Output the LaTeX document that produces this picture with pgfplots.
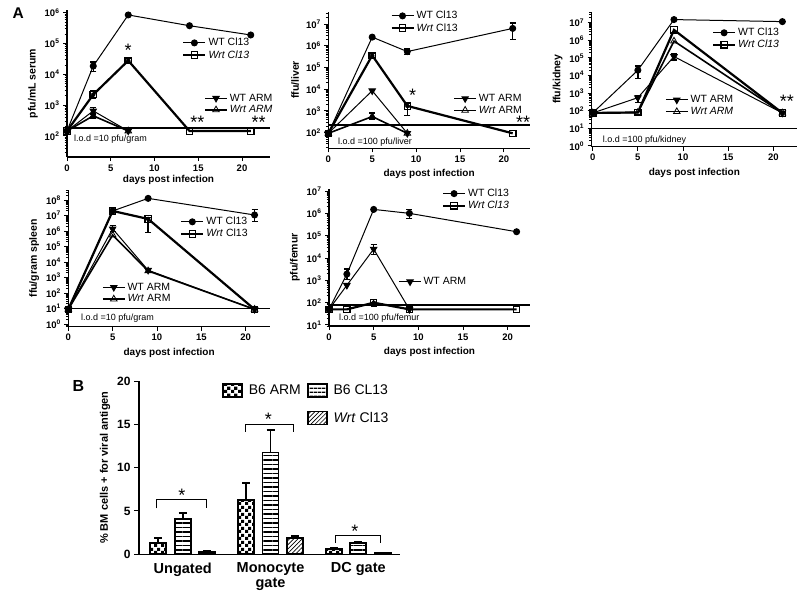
\documentclass[border=0pt]{standalone}
\usepackage{pgfplots}
\pgfplotsset{compat=1.18}
\usepackage{fontspec}
\setmainfont{Liberation Sans}
\usetikzlibrary{patterns,patterns.meta}

\pgfdeclarepatternformonly{bigcheck}{\pgfpointorigin}{\pgfqpoint{7pt}{7pt}}{\pgfqpoint{7pt}{7pt}}{%
  \pgfpathrectangle{\pgfpointorigin}{\pgfqpoint{3.5pt}{3.5pt}}%
  \pgfpathrectangle{\pgfqpoint{3.5pt}{3.5pt}}{\pgfqpoint{3.5pt}{3.5pt}}%
  \pgfusepath{fill}}

\newcommand{\E}[1]{\textbf{10}\textsuperscript{\textbf{#1}}}
\newcommand{\fs}[1]{\fontsize{#1}{#1}\selectfont}
\def\minorlist{0.2,0.3,0.4,0.5,0.6,0.7,0.8,0.9,2,3,4,5,6,7,8,9,20,30,40,50,60,70,80,90,200,300,400,500,600,700,800,900,2000,3000,4000,5000,6000,7000,8000,9000,2e4,3e4,4e4,5e4,6e4,7e4,8e4,9e4,2e5,3e5,4e5,5e5,6e5,7e5,8e5,9e5,2e6,3e6,4e6,5e6,6e6,7e6,8e6,9e6,2e7,3e7,4e7,5e7,6e7,7e7,8e7,9e7,2e8,3e8,4e8}

\tikzset{
  sigtxt/.style={font=\fs{18}, inner sep=0pt},
  lodtxt/.style={anchor=west, font=\fs{9}, inner sep=0pt},
  wtclstyle/.style={black, line width=1pt, mark=*, mark size=3pt, mark options={solid}},
  wrtclstyle/.style={black, line width=2.2pt, mark=square, mark size=3.2pt, mark options={solid, fill=white, line width=1.2pt}},
  wtarmstyle/.style={black, line width=1pt, mark=triangle*, mark size=3.6pt, mark options={solid, rotate=180}},
  wrtarmstyle/.style={black, line width=1.6pt, mark=triangle, mark size=3.8pt, mark options={solid, fill=white, line width=0.8pt}},
}

\pgfplotsset{
  legend image code/.code={\draw[mark repeat=2,mark phase=2,#1] plot coordinates {(0pt,0pt) (11pt,0pt) (22pt,0pt)};},
  every axis/.append style={
    scale only axis, anchor=south west,
    axis lines=left,
    axis line style={-, line width=1.3pt},
    tick style={black, line width=1pt},
    tick align=outside,
    major tick length=4pt,
    minor tick length=2.5pt,
    xticklabel style={font=\fs{9.5}\bfseries},
    yticklabel style={font=\fs{9.5}\bfseries},
    xlabel style={font=\fs{10}\bfseries},
    ylabel style={font=\fs{10.5}\bfseries},
    clip=false,
    legend style={draw=none, fill=none, font=\fs{10.5}, anchor=west, inner sep=0pt, row sep=-1pt},
    legend cell align=left,
    /pgf/number format/assume math mode=true,
  },
}

\begin{document}
\begin{tikzpicture}
\path[use as bounding box] (0pt,0pt) rectangle (800pt,-595pt);
\node[anchor=base, font=\fs{15.5}\bfseries] at (18.3pt,-18.3pt) {A};
\node[anchor=base, font=\fs{16}\bfseries] at (78.3pt,-391.7pt) {B};

% ---------------- serum ----------------
\begin{axis}[ymode=log, at={(67pt,-157pt)}, width=203pt, height=147pt, xmin=0, xmax=23.2, ymin=20.7, ymax=1.23e6,
    xtick={0,5,10,15,20}, xlabel={days post infection}, xlabel style={yshift=2.5pt},
    ytick={1e2,1e3,1e4,1e5,1e6}, yticklabels={\E{2},\E{3},\E{4},\E{5},\E{6}}, ylabel={pfu/mL serum},
    minor ytick/.expand once={\minorlist},
    legend style={at={(0.567,0.735)}}]
\addplot[forget plot, black, line width=1.6pt, mark=none] coordinates {(0,180) (23.2,180)};
\addplot[forget plot, only marks, mark=none, error bars/.cd, y dir=both, y explicit, error bar style={line width=1.3pt, black}, error mark options={rotate=90, mark size=3pt, line width=1.3pt, black}]
  coordinates {(3,18600) += (0,6400) -= (0,6000) (3,2200) += (0,700) -= (0,500) (7,28000) += (0,4000) -= (0,4000)};
\addplot[wtclstyle] coordinates {(0,145) (3,18600) (7,850000) (14,380000) (21,190000)};
\addlegendentry{WT Cl13}
\addplot[wrtclstyle] coordinates {(0,145) (3,2200) (7,28000) (14,145) (21,145)};
\addlegendentry{\textit{Wrt Cl13}}
\node[sigtxt] at (axis cs:7,6.2e4) {*};
\node[sigtxt] at (axis cs:14.9,280) {**};
\node[sigtxt] at (axis cs:21.9,280) {**};
\node[lodtxt] at (axis cs:0.8,78) {l.o.d =10 pfu/gram};
\end{axis}
\begin{axis}[ymode=log, hide axis, at={(67pt,-157pt)}, width=203pt, height=147pt, xmin=0, xmax=23.2, ymin=20.7, ymax=1.23e6,
    legend style={at={(0.675,0.36)}}]
\addplot[forget plot, only marks, mark=none, error bars/.cd, y dir=both, y explicit, error bar style={line width=1.3pt, black}, error mark options={rotate=90, mark size=3pt, line width=1.3pt, black}]
  coordinates {(3,650) += (0,200) -= (0,150) (3,450) += (0,70) -= (0,70)};
\addplot[wtarmstyle] coordinates {(0,145) (3,650) (7,145)};
\addlegendentry{WT ARM}
\addplot[wrtarmstyle] coordinates {(0,145) (3,450) (7,145)};
\addlegendentry{\textit{Wrt ARM}}
\end{axis}

% ---------------- liver ----------------
\begin{axis}[ymode=log, at={(328.3pt,-148.3pt)}, width=201.7pt, height=136.6pt, xmin=0, xmax=22.97, ymin=19, ymax=3.7e7,
    xtick={0,5,10,15,20}, xlabel={days post infection},
    ytick={1e2,1e3,1e4,1e5,1e6,1e7}, yticklabels={\E{2},\E{3},\E{4},\E{5},\E{6},\E{7}}, ylabel={ffu/liver},
    minor ytick/.expand once={\minorlist},
    legend style={at={(0.307,0.925)}}]
\addplot[forget plot, black, line width=1.6pt, mark=none] coordinates {(0,225) (22.97,225)};
\addplot[forget plot, only marks, mark=none, error bars/.cd, y dir=both, y explicit, error bar style={line width=1.3pt, black}, error mark options={rotate=90, mark size=3pt, line width=1.3pt, black}]
  coordinates {(9,5.4e5) += (0,1.6e5) -= (0,1.5e5) (21,6.3e6) += (0,4.7e6) -= (0,4.3e6) (5,3.6e5) += (0,1e5) -= (0,0.8e5) (9,1700) += (0,500) -= (0,1100)};
\addplot[wtclstyle] coordinates {(0,93) (5,2.5e6) (9,5.4e5) (21,6.3e6)};
\addlegendentry{WT Cl13}
\addplot[wrtclstyle] coordinates {(0,93) (5,3.6e5) (9,1700) (21,93)};
\addlegendentry{\textit{Wrt} Cl13}
\node[sigtxt] at (axis cs:9.6,5400) {*};
\node[sigtxt] at (axis cs:22.2,290) {**};
\node[lodtxt] at (axis cs:1.1,38) {l.o.d =100 pfu/liver};
\end{axis}
\begin{axis}[ymode=log, hide axis, at={(328.3pt,-148.3pt)}, width=201.7pt, height=136.6pt, xmin=0, xmax=22.97, ymin=19, ymax=3.7e7,
    legend style={at={(0.619,0.321)}}]
\addplot[forget plot, only marks, mark=none, error bars/.cd, y dir=both, y explicit, error bar style={line width=1.3pt, black}, error mark options={rotate=90, mark size=3pt, line width=1.3pt, black}]
  coordinates {(5,550) += (0,250) -= (0,150)};
\addplot[wtarmstyle] coordinates {(0,93) (5,8500) (9,93)};
\addlegendentry{WT ARM}
\addplot[wrtarmstyle] coordinates {(0,93) (5,550) (9,93)};
\addlegendentry{\textit{Wrt} ARM}
\end{axis}

% ---------------- kidney ----------------
\begin{axis}[ymode=log, at={(591.7pt,-146.7pt)}, width=205.3pt, height=135pt, xmin=-0.11, xmax=22.62, ymin=0.91, ymax=4.2e7,
    xtick={0,5,10,15,20}, xlabel={days post infection},
    ytick={1,1e1,1e2,1e3,1e4,1e5,1e6,1e7}, yticklabels={\E{0},\E{1},\E{2},\E{3},\E{4},\E{5},\E{6},\E{7}}, ylabel={ffu/kidney},
    minor ytick/.expand once={\minorlist},
    legend style={at={(0.585,0.799)}}]
\addplot[forget plot, black, line width=1.6pt, mark=none] coordinates {(-0.11,10) (22.62,10)};
\addplot[forget plot, only marks, mark=none, error bars/.cd, y dir=both, y explicit, error bar style={line width=1.3pt, black}, error mark options={rotate=90, mark size=3pt, line width=1.3pt, black}]
  coordinates {(5,2e4) += (0,1.5e4) -= (0,1.3e4)};
\addplot[wtclstyle] coordinates {(0,75) (5,2e4) (9,1.5e7) (21,1.15e7)};
\addlegendentry{WT Cl13}
\addplot[wrtclstyle] coordinates {(0,75) (5,80) (9,3.9e6) (21,75)};
\addlegendentry{\textit{Wrt Cl13}}
\node[sigtxt] at (axis cs:21.5,330) {**};
\node[lodtxt] at (axis cs:1.1,2.2) {l.o.d =100 pfu/kidney};
\end{axis}
\begin{axis}[ymode=log, hide axis, at={(591.7pt,-146.7pt)}, width=205.3pt, height=135pt, xmin=-0.11, xmax=22.62, ymin=0.91, ymax=4.2e7,
    legend style={at={(0.356,0.303)}}]
\addplot[forget plot, only marks, mark=none, error bars/.cd, y dir=both, y explicit, error bar style={line width=1.3pt, black}, error mark options={rotate=90, mark size=3pt, line width=1.3pt, black}]
  coordinates {(5,550) += (0,200) -= (0,250) (9,1.2e5) += (0,6e4) -= (0,4.5e4)};
\addplot[wtarmstyle] coordinates {(0,75) (5,550) (9,1.2e5) (21,75)};
\addlegendentry{WT ARM}
\addplot[wrtarmstyle] coordinates {(0,75) (5,80) (9,9e5) (21,75)};
\addlegendentry{\textit{Wrt ARM}}
\end{axis}

% ---------------- spleen ----------------
\begin{axis}[ymode=log, at={(68.3pt,-326.7pt)}, width=201.7pt, height=136.7pt, xmin=0, xmax=22.74, ymin=0.68, ymax=4.5e8,
    xtick={0,5,10,15,20}, xlabel={days post infection},
    ytick={1,1e1,1e2,1e3,1e4,1e5,1e6,1e7,1e8}, yticklabels={\E{0},\E{1},\E{2},\E{3},\E{4},\E{5},\E{6},\E{7},\E{8}}, ylabel={ffu/gram spleen},
    minor ytick/.expand once={\minorlist},
    legend style={at={(0.554,0.723)}}]
\addplot[forget plot, black, line width=1.6pt, mark=none] coordinates {(0,10) (22.74,10)};
\addplot[forget plot, only marks, mark=none, error bars/.cd, y dir=both, y explicit, error bar style={line width=1.3pt, black}, error mark options={rotate=90, mark size=3pt, line width=1.3pt, black}]
  coordinates {(21,1.1e7) += (0,1.4e7) -= (0,7e6) (9,6.1e6) += (0,1.8e6) -= (0,5.3e6)};
\addplot[wtclstyle] coordinates {(0,9) (5,2e7) (9,1.3e8) (21,1.1e7)};
\addlegendentry{WT Cl13}
\addplot[wrtclstyle] coordinates {(0,9) (5,2e7) (9,6.1e6) (21,9)};
\addlegendentry{\textit{Wrt} Cl13}
\node[lodtxt] at (axis cs:1.43,2.3) {l.o.d =10 pfu/gram};
\end{axis}
\begin{axis}[ymode=log, hide axis, at={(68.3pt,-326.7pt)}, width=201.7pt, height=136.7pt, xmin=0, xmax=22.74, ymin=0.68, ymax=4.5e8,
    legend style={at={(0.166,0.245)}}]
\addplot[forget plot, only marks, mark=none, error bars/.cd, y dir=both, y explicit, error bar style={line width=1.3pt, black}, error mark options={rotate=90, mark size=3pt, line width=1.3pt, black}]
  coordinates {(5,1.4e6) += (0,9e5) -= (0,5e5) (9,3000) += (0,800) -= (0,800)};
\addplot[wtarmstyle] coordinates {(0,9) (5,1.4e6) (9,3000) (21,9)};
\addlegendentry{WT ARM}
\addplot[wrtarmstyle] coordinates {(0,9) (5,5.6e5) (9,2700) (21,9)};
\addlegendentry{\textit{Wrt} ARM}
\end{axis}

% ---------------- femur ----------------
\begin{axis}[ymode=log, at={(329pt,-326pt)}, width=201pt, height=137pt, xmin=0, xmax=22.5, ymin=9, ymax=1.23e7,
    xtick={0,5,10,15,20}, xlabel={days post infection},
    ytick={1e1,1e2,1e3,1e4,1e5,1e6,1e7}, yticklabels={\E{1},\E{2},\E{3},\E{4},\E{5},\E{6},\E{7}}, ylabel={pfu/femur},
    minor ytick/.expand once={\minorlist},
    legend style={at={(0.561,0.922)}}]
\addplot[forget plot, black, line width=1.6pt, mark=none] coordinates {(0,79) (22.5,79)};
\addplot[forget plot, only marks, mark=none, error bars/.cd, y dir=both, y explicit, error bar style={line width=1.3pt, black}, error mark options={rotate=90, mark size=3pt, line width=1.3pt, black}]
  coordinates {(2,1900) += (0,1300) -= (0,800) (9,1e6) += (0,5e5) -= (0,4e5) (5,100) += (0,40) -= (0,30)};
\addplot[wtclstyle] coordinates {(0,50) (2,1900) (5,1.5e6) (9,1e6) (21,1.5e5)};
\addlegendentry{WT Cl13}
\addplot[wrtclstyle] coordinates {(0,50) (2,50) (5,100) (9,50) (21,50)};
\addlegendentry{\textit{Wrt Cl13}}
\node[lodtxt] at (axis cs:1.1,20) {l.o.d =100 pfu/femur};
\end{axis}
\begin{axis}[ymode=log, hide axis, at={(329pt,-326pt)}, width=201pt, height=137pt, xmin=0, xmax=22.5, ymin=9, ymax=1.23e7,
    legend style={at={(0.345,0.323)}}]
\addplot[forget plot, only marks, mark=none, error bars/.cd, y dir=both, y explicit, error bar style={line width=1.3pt, black}, error mark options={rotate=90, mark size=3pt, line width=1.3pt, black}]
  coordinates {(5,2.5e4) += (0,1.5e4) -= (0,1.1e4)};
\addplot[wtarmstyle] coordinates {(0,50) (2,600) (5,2.5e4) (9,50)};
\addlegendentry{WT ARM}
\end{axis}

% ---------------- B: bar chart ----------------
\begin{axis}[at={(139pt,-554.3pt)}, width=261pt, height=173.3pt,
  axis line style={-, line width=1.6pt},
  xmin=-0.498, xmax=2.475, ymin=0, ymax=20,
  xtick={0,1,2}, xticklabels={Ungated, Monocyte\\gate, DC gate},
  xticklabel style={font=\fs{14.5}\bfseries, align=center},
  x tick style={draw=none},
  ytick={0,5,10,15,20},
  yticklabel style={font=\fs{12}\bfseries},
  major tick length=5pt,
  ylabel={\% BM cells + for viral antigen}, ylabel style={font=\fs{11}\bfseries},
  legend columns=2,
  legend style={at={(0.318,0.99)}, anchor=north west, font=\fs{14}, column sep=4pt, row sep=12pt},
]
\addplot[ybar, bar width=16pt, bar shift=0pt, draw=black, line width=1.8pt, pattern=bigcheck,
  legend image code/.code={\draw[black, line width=1.6pt, pattern=bigcheck] (0pt,-6.5pt) rectangle (19pt,6.5pt);},
  error bars/.cd, y dir=plus, y explicit, error bar style={line width=1.6pt, black}, error mark options={rotate=90, mark size=4pt, line width=1.6pt, black}]
  coordinates {(-0.279,1.3) += (0,0.55) (0.721,6.3) += (0,1.95) (1.721,0.58) += (0,0.12)};
\addlegendentry{B6 ARM}
\addplot[ybar, bar width=16pt, bar shift=0pt, draw=black, line width=1.8pt, pattern={Lines[angle=0,distance=4.5pt,line width=1.5pt]},
  legend image code/.code={\draw[black, line width=1.6pt, pattern={Lines[angle=0,distance=4pt,line width=1.4pt]}] (0pt,-6.5pt) rectangle (19pt,6.5pt);},
  error bars/.cd, y dir=plus, y explicit, error bar style={line width=1.6pt, black}, error mark options={rotate=90, mark size=4pt, line width=1.6pt, black}]
  coordinates {(0,4.07) += (0,0.73) (1,11.76) += (0,2.6) (2,1.27) += (0,0.18)};
\addlegendentry{B6 CL13}
\addlegendimage{empty legend}
\addlegendentry{}
\addplot[ybar, bar width=16pt, bar shift=0pt, draw=black, line width=1.8pt, pattern={Lines[angle=45,distance=3pt,line width=0.7pt]},
  legend image code/.code={\draw[black, line width=1.6pt, pattern={Lines[angle=45,distance=3pt,line width=0.7pt]}] (0pt,-6.5pt) rectangle (19pt,6.5pt);},
  error bars/.cd, y dir=plus, y explicit, error bar style={line width=1.6pt, black}, error mark options={rotate=90, mark size=4pt, line width=1.6pt, black}]
  coordinates {(0.279,0.3) += (0,0.05) (1.279,1.85) += (0,0.25) (2.279,0.2) += (0,0.03)};
\addlegendentry{\textit{Wrt} Cl13}
\draw[line width=0.8pt] (axis cs:-0.296,5.3) |- (axis cs:0.273,6.35) -- (axis cs:0.273,5.3);
\draw[line width=0.8pt] (axis cs:0.718,14.15) |- (axis cs:1.26,15.0) -- (axis cs:1.26,14.15);
\draw[line width=0.8pt] (axis cs:1.738,1.3) |- (axis cs:2.247,2.2) -- (axis cs:2.247,1.3);
\node[sigtxt] at (axis cs:-0.01,6.84) {*};
\node[sigtxt] at (axis cs:0.975,15.57) {*};
\node[sigtxt] at (axis cs:1.96,2.69) {*};
\end{axis}
\end{tikzpicture}
\end{document}
